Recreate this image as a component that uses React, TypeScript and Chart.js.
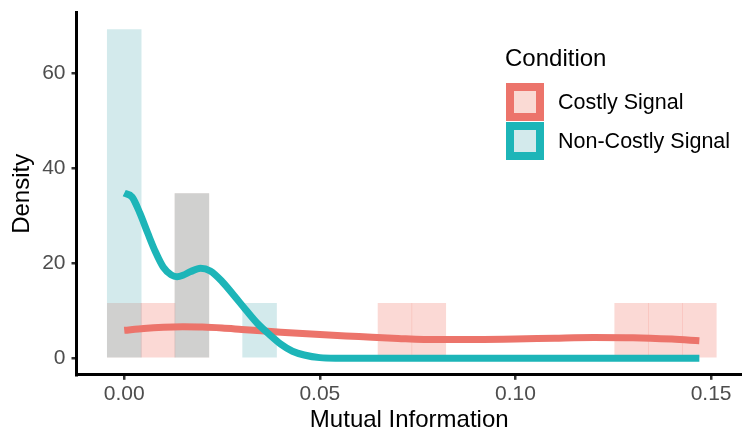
import React, { useEffect, useRef } from "react";
import { Chart, registerables } from "chart.js";

Chart.register(...registerables);

// ---- data ----
const costlyBinCenters = [0, 0.00865, 0.0173, 0.0692, 0.07785, 0.1297, 0.13835, 0.147];
const costlyHistDensity = [11.6, 11.6, 34.7, 11.6, 11.6, 11.6, 11.6, 11.6];
const nonCostlyBinCenters = [0, 0.0173, 0.0346];
const nonCostlyHistDensity = [69.3, 34.7, 11.6];

const costlyCurveX = [0, 0.005, 0.01, 0.015, 0.02, 0.025, 0.03, 0.035, 0.04, 0.05, 0.06, 0.07, 0.08, 0.09, 0.1, 0.11, 0.12, 0.13, 0.14, 0.147];
const costlyCurveY = [5.9, 6.3, 6.55, 6.65, 6.6, 6.4, 6.1, 5.8, 5.5, 5.0, 4.6, 4.2, 3.95, 3.95, 4.05, 4.25, 4.4, 4.35, 4.05, 3.7];

const nonCostlyCurveX = [0, 0.002, 0.004, 0.006, 0.008, 0.01, 0.012, 0.0135, 0.015, 0.017, 0.0195, 0.022, 0.025, 0.028, 0.031, 0.034, 0.037, 0.04, 0.043, 0.046, 0.05, 0.055, 0.06, 0.08, 0.1, 0.12, 0.147];
const nonCostlyCurveY = [34.8, 34.0, 30.6, 26.4, 22.4, 19.2, 17.6, 17.2, 17.5, 18.3, 19.0, 18.4, 16.2, 13.3, 10.3, 7.4, 5.1, 3.0, 1.5, 0.7, 0.15, 0.02, 0, 0, 0, 0, 0];

const xTicks = [0, 0.05, 0.1, 0.15];
const yTicks = [0, 20, 40, 60];
const seriesNames = ["Costly Signal", "Non-Costly Signal"];
const legendTitle = "Condition";
const xTitle = "Mutual Information";
const yTitle = "Density";

// ---- styles ----
const FONT = '"Liberation Sans", Arial, Helvetica, sans-serif';
const PINK_LINE = "#EC746B";
const TEAL_LINE = "#1DB5B8";
const PINK_FILL = "rgba(240,118,105,0.28)";
const TEAL_FILL = "rgba(108,185,192,0.3)";
const PINK_KEY = "rgb(250,218,212)";
const TEAL_KEY = "rgb(211,234,236)";

const zip = (xs: number[], ys: number[]) => xs.map((x, i) => ({ x, y: ys[i] }));

export default function App() {
  const ref = useRef<HTMLCanvasElement | null>(null);

  useEffect(() => {
    if (!ref.current) return;
    const chart = new Chart(ref.current, {
      type: "bar",
      data: {
        datasets: [
          {
            type: "line",
            label: seriesNames[1],
            data: zip(nonCostlyCurveX, nonCostlyCurveY),
            borderColor: TEAL_LINE,
            borderWidth: 7,
            pointRadius: 0,
            cubicInterpolationMode: "monotone",
            fill: false,
            borderCapStyle: "butt",
            borderJoinStyle: "round",
            order: 0,
          } as any,
          {
            type: "line",
            label: seriesNames[0],
            data: zip(costlyCurveX, costlyCurveY),
            borderColor: PINK_LINE,
            borderWidth: 7,
            pointRadius: 0,
            cubicInterpolationMode: "monotone",
            fill: false,
            borderCapStyle: "butt",
            borderJoinStyle: "round",
            order: 1,
          } as any,
          {
            type: "bar",
            label: seriesNames[1] + " histogram",
            data: zip(nonCostlyBinCenters, nonCostlyHistDensity),
            backgroundColor: TEAL_FILL,
            borderWidth: 0,
            grouped: false,
            barPercentage: 1,
            categoryPercentage: 1,
            order: 2,
          } as any,
          {
            type: "bar",
            label: seriesNames[0] + " histogram",
            data: zip(costlyBinCenters, costlyHistDensity),
            backgroundColor: PINK_FILL,
            borderWidth: 0,
            grouped: false,
            barPercentage: 1,
            categoryPercentage: 1,
            order: 3,
          } as any,
        ],
      },
      options: {
        animation: false,
        responsive: false,
        maintainAspectRatio: false,
        events: [],
        layout: { padding: { top: 12.9, left: 0, right: 0, bottom: 0 } },
        plugins: { legend: { display: false }, tooltip: { enabled: false } },
        scales: {
          x: {
            type: "linear",
            min: -0.0122,
            max: 0.1579,
            offset: false,
            afterBuildTicks: (s: any) => {
              s.ticks = xTicks.map((v) => ({ value: v }));
            },
            afterFit: (s: any) => {
              s.height = 55.2;
              s.paddingLeft = 0;
              s.paddingRight = 0;
            },
            grid: {
              display: true,
              offset: false,
              drawOnChartArea: false,
              drawTicks: true,
              tickLength: 5,
              color: "#333333",
              lineWidth: 2.5,
            },
            border: { display: true, color: "#000000", width: 3 },
            ticks: {
              color: "#4D4D4D",
              font: { family: FONT, size: 21 },
              padding: 2,
              maxRotation: 0,
              autoSkip: false,
              callback: (v: any) => Number(v).toFixed(2),
            },
            title: {
              display: true,
              text: xTitle,
              color: "#000000",
              font: { family: FONT, size: 24, lineHeight: 1 },
              padding: { top: 0, bottom: -2 },
            },
          },
          y: {
            type: "linear",
            min: -3.47,
            max: 72.8,
            afterBuildTicks: (s: any) => {
              s.ticks = yTicks.map((v) => ({ value: v }));
            },
            afterFit: (s: any) => {
              s.width = 76.5;
              s.paddingTop = 0;
              s.paddingBottom = 0;
            },
            grid: {
              display: true,
              drawOnChartArea: false,
              drawTicks: true,
              tickLength: 5,
              color: "#333333",
              lineWidth: 2.5,
            },
            border: { display: true, color: "#000000", width: 3 },
            ticks: {
              color: "#4D4D4D",
              font: { family: FONT, size: 21 },
              padding: 6,
              autoSkip: false,
              callback: (v: any) => String(v),
            },
            title: {
              display: true,
              text: yTitle,
              color: "#000000",
              font: { family: FONT, size: 24, lineHeight: 1 },
              padding: { top: 10.5, bottom: 0 },
            },
          },
        },
      } as any,
    });
    return () => chart.destroy();
  }, []);

  const keyStyle = (border: string, fill: string, top: number): React.CSSProperties => ({
    position: "absolute",
    left: 505.5,
    top,
    width: 22,
    height: 22,
    border: `8px solid ${border}`,
    background: fill,
  });
  const labelStyle = (top: number): React.CSSProperties => ({
    position: "absolute",
    left: 558,
    top,
    fontFamily: FONT,
    fontSize: 21.5,
    lineHeight: "21.5px",
    color: "#000",
    whiteSpace: "nowrap",
  });

  return (
    <div style={{ position: "fixed", left: 0, top: 0, width: 742, height: 430, background: "#fff" }}>
      <canvas ref={ref} width={742} height={430} style={{ position: "absolute", left: 0, top: 0, width: 742, height: 430 }} />
      <div
        style={{
          position: "absolute",
          left: 505,
          top: 46.4,
          fontFamily: FONT,
          fontSize: 24,
          lineHeight: "24px",
          color: "#000",
          whiteSpace: "nowrap",
        }}
      >
        {legendTitle}
      </div>
      <div style={keyStyle(PINK_LINE, PINK_KEY, 83)} />
      <div style={keyStyle(TEAL_LINE, TEAL_KEY, 122)} />
      <div style={labelStyle(91.5)}>{seriesNames[0]}</div>
      <div style={labelStyle(130.7)}>{seriesNames[1]}</div>
    </div>
  );
}
